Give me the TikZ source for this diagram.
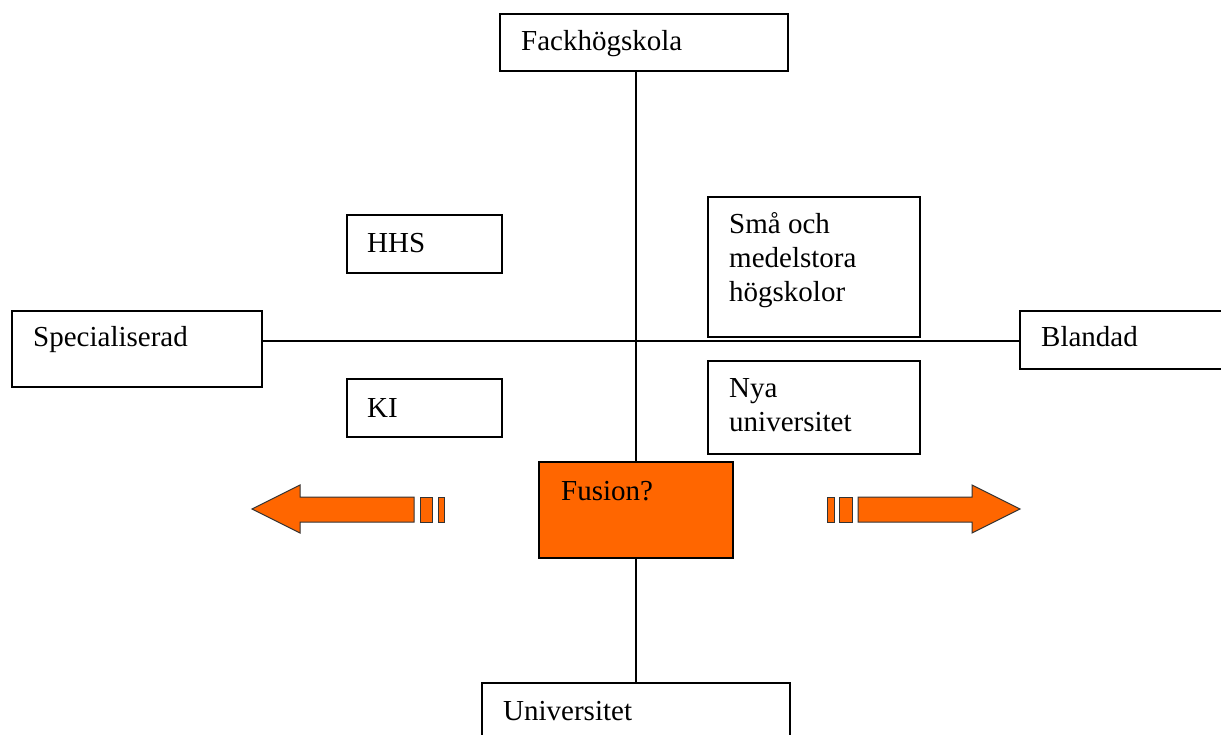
\documentclass[tikz,border=0pt]{standalone}
\usepackage{fontspec}
\setmainfont{Liberation Serif}
\definecolor{fusionorange}{HTML}{FF6600}

\begin{document}
\begin{tikzpicture}[x=1pt,y=-1pt,
  box/.style={draw, line width=1.8pt, inner sep=0pt, outer sep=0pt, anchor=north west},
  boxtext/.style={anchor=base west, inner sep=0pt, align=left, font=\fontsize{29}{34}\selectfont},
  axis/.style={line width=1.8pt},
  pil/.style={draw=black!80, line width=1pt, fill=fusionorange}]
 \useasboundingbox (0,0) rectangle (1221,735);
 \clip (0,0) rectangle (1221,735);

 \node[box, minimum width=288, minimum height=57] (fack) at (500,14) {};
 \node[box, minimum width=308, minimum height=80] (univ) at (482,683) {};
 \node[box, minimum width=250, minimum height=76] (spec) at (12,311) {};
 \node[box, minimum width=230, minimum height=58] (bland) at (1020,311) {};
 \node[box, minimum width=155, minimum height=58] (hhs) at (347,215) {};
 \node[box, minimum width=155, minimum height=58] (ki) at (347,379) {};
 \node[box, minimum width=212, minimum height=140] (sma) at (708,197) {};
 \node[box, minimum width=212, minimum height=93] (nya) at (708,361) {};
 \node[box, fill=fusionorange, minimum width=194, minimum height=96] (fusion) at (539,462) {};

 % text sits on the baseline of its last line
 \node[boxtext] (fackt) at ([shift={(21,37)}]fack.north west) {Fackhögskola};
 \node[boxtext] (univt) at ([shift={(21,37)}]univ.north west) {Universitet};
 \node[boxtext] (spect) at ([shift={(21,35)}]spec.north west) {Specialiserad};
 \node[boxtext] (blandt) at ([shift={(21,36)}]bland.north west) {Blandad};
 \node[boxtext] (hhst) at ([shift={(20,38)}]hhs.north west) {HHS};
 \node[boxtext] (kit) at ([shift={(20,38)}]ki.north west) {KI};
 \node[boxtext] (smat) at ([shift={(21,105)}]sma.north west) {Små och\\medelstora\\högskolor};
 \node[boxtext] (nyat) at ([shift={(21,70)}]nya.north west) {Nya\\universitet};
 \node[boxtext] (fusiont) at ([shift={(22,38)}]fusion.north west) {Fusion?};

 % axes
 \coordinate (mid) at (635,341);
 \draw[axis] (fusion.north) -- (fusion.north |- fack.south);
 \draw[axis] (fusion.south) -- (fusion.south |- univ.north);
 \draw[axis] (spec.east |- mid) -- (bland.west |- mid);

 % arrows
 \draw[pil] (252,509) -- (300,485) -- (300,497) -- (414,497) -- (414,522) -- (300,522) -- (300,533) -- cycle;
 \draw[pil] (420,497) rectangle (432,522);
 \draw[pil] (438,497) rectangle (444,522);
 \draw[pil] (1020,509) -- (972,485) -- (972,497) -- (858,497) -- (858,522) -- (972,522) -- (972,533) -- cycle;
 \draw[pil] (839,497) rectangle (852,522);
 \draw[pil] (827,497) rectangle (834,522);
\end{tikzpicture}
\end{document}
